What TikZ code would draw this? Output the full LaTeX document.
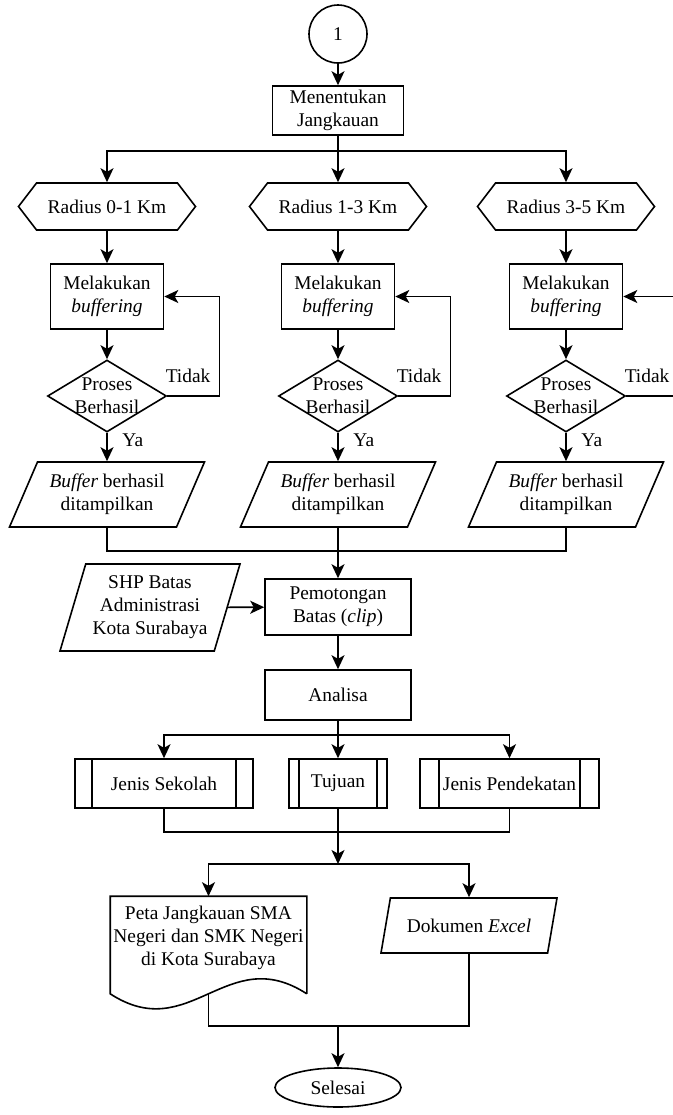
\documentclass[tikz,border=0pt]{standalone}
\usepackage{fontspec}
\setmainfont{Liberation Serif}
\usetikzlibrary{shapes.geometric,shapes.symbols,arrows.meta}

\begin{document}
\begin{tikzpicture}[
			x = 0.5pt, y = -0.5pt,
			line width = 0.8pt,
			>={Stealth[length=7pt,width=6.5pt,inset=1.8pt]},
			every node/.style = {font = \fontsize{9.7}{11.5}\selectfont},
			konektor/.style = {draw, circle, minimum size = 29pt, inner sep = 0pt},
			terminal/.style = {draw, ellipse, minimum width = 63pt, minimum height = 19.5pt, inner sep = 1pt},
			proses/.style = {draw, rectangle, align = center, inner sep = 2pt},
			persiapan/.style = {draw, signal, signal to = east and west, signal pointer angle = 105, minimum width = 88.5pt, minimum height = 23.5pt},
			keputusan/.style = {draw, diamond, aspect = 1.65, align = center, inner sep = -2pt, minimum width = 59.5pt, minimum height = 36pt},
			data/.style = {draw, trapezium, trapezium stretches body, align = center, inner sep = 1pt},
			subproses/.style = {draw, rectangle, minimum height = 24.5pt, path picture = {
				\draw ([xshift=#1]path picture bounding box.north west) -- ([xshift=#1]path picture bounding box.south west)
				([xshift=-#1]path picture bounding box.north east) -- ([xshift=-#1]path picture bounding box.south east);}}
			]

			\useasboundingbox (0,0) rectangle (673,1115);

			\node[konektor] (mulai) at (338,34) {1};
			\node[proses, minimum width = 65.5pt, minimum height = 24.5pt] (jangkau) at (338,110.5) {Menentukan\\Jangkauan};

			\node[persiapan] (rad1) at (107,206.5) {Radius 0-1 Km};
			\node[persiapan] (rad2) at (338,206.5) {Radius 1-3 Km};
			\node[persiapan] (rad3) at (566,206.5) {Radius 3-5 Km};

			\node[proses, minimum width = 56.5pt, minimum height = 32.5pt] (buf1) at (107,296.5) {Melakukan\\\textit{buffering}};
			\node[proses, minimum width = 56.5pt, minimum height = 32.5pt] (buf2) at (338,296.5) {Melakukan\\\textit{buffering}};
			\node[proses, minimum width = 56.5pt, minimum height = 32.5pt] (buf3) at (566,296.5) {Melakukan\\\textit{buffering}};

			\node[keputusan] (cek1) at (107,396) {Proses\\Berhasil};
			\node[keputusan] (cek2) at (338,396) {Proses\\Berhasil};
			\node[keputusan] (cek3) at (566,396) {Proses\\Berhasil};

			\node[data, trapezium left angle = 58, trapezium right angle = 122, minimum width = 97.5pt, minimum height = 32.5pt] (hasil1) at (107,494.5) {\textit{Buffer} berhasil\\ditampilkan};
			\node[data, trapezium left angle = 58, trapezium right angle = 122, minimum width = 97.5pt, minimum height = 32.5pt] (hasil2) at (338,494.5) {\textit{Buffer} berhasil\\ditampilkan};
			\node[data, trapezium left angle = 58, trapezium right angle = 122, minimum width = 97.5pt, minimum height = 32.5pt] (hasil3) at (566,494.5) {\textit{Buffer} berhasil\\ditampilkan};

			\node[data, trapezium left angle = 69, trapezium right angle = 111, minimum width = 90pt, minimum height = 43.5pt] (shp) at (150,607.5) {SHP Batas\\Administrasi\\Kota Surabaya};
			\node[proses, minimum width = 73pt, minimum height = 28pt] (potong) at (338,607) {Pemotongan\\Batas (\textit{clip})};
			\node[proses, minimum width = 73pt, minimum height = 25pt] (analisa) at (338,695) {Analisa};

			\node[subproses = 8.5pt, minimum width = 89pt] (sekolah) at (164,783.5) {Jenis Sekolah};
			\node[subproses = 5pt, minimum width = 49pt] (tujuan) at (338,783.5) {Tujuan};
			\node[subproses = 9.5pt, minimum width = 89.5pt] (dekat) at (509.5,783.5) {Jenis Pendekatan};

			\node[minimum width = 97.5pt, minimum height = 40.5pt, align = center, inner sep = 0pt] (peta) at (208.5,937.5) {Peta Jangkauan SMA\\Negeri dan SMK Negeri\\di Kota Surabaya};
			\draw ([yshift=-7.5pt]peta.south east) -- (peta.north east) -- (peta.north west) -- ([yshift=-7.5pt]peta.south west) .. controls +(80,52) and +(-80,-52) .. ([yshift=-7.5pt]peta.south east);
			\node[data, trapezium left angle = 62, trapezium right angle = 118, minimum width = 88pt, minimum height = 27.5pt] (excel) at (469,925.5) {Dokumen \textit{Excel}};

			\node[terminal] (selesai) at (338,1087.5) {Selesai};

			\coordinate (cab1) at (338,151);
			\coordinate (gab1) at (338,551);
			\coordinate (cab2) at (338,735);
			\coordinate (gab2) at (338,832);
			\coordinate (cab3) at (338,864);
			\coordinate (gab3) at (338,1026);
			\coordinate (petabawah) at ([yshift=-7.5pt]peta.south);

			\draw[->] (mulai) -- (jangkau);
			\draw (jangkau) -- (cab1);
			\draw[->] (cab1) -| (rad1.north);
			\draw[->] (cab1) -- (rad2);
			\draw[->] (cab1) -| (rad3.north);

			\draw[->] (rad1) -- (buf1);
			\draw[->] (rad2) -- (buf2);
			\draw[->] (rad3) -- (buf3);

			\draw[->] (buf1) -- (cek1);
			\draw[->] (buf2) -- (cek2);
			\draw[->] (buf3) -- (cek3);

			\draw[->] (cek1.east) -- node[pos = 0.4, above = 3pt] {Tidak} ++(52,0) |- (buf1.east);
			\draw[->] (cek2.east) -- node[pos = 0.4, above = 3pt] {Tidak} ++(52,0) |- (buf2.east);
			\draw[->] (cek3.east) -- node[pos = 0.4, above = 3pt] {Tidak} ++(52,0) |- (buf3.east);

			\draw[->] (cek1) -- node[pos = 0.25, right = 4pt] {Ya} (hasil1);
			\draw[->] (cek2) -- node[pos = 0.25, right = 4pt] {Ya} (hasil2);
			\draw[->] (cek3) -- node[pos = 0.25, right = 4pt] {Ya} (hasil3);

			\draw (hasil1.south) |- (gab1) -| (hasil3.south);
			\draw[->] (hasil2) -- (potong);
			\draw[->] (shp) -- (potong);
			\draw[->] (potong) -- (analisa);

			\draw (analisa) -- (cab2);
			\draw[->] (cab2) -| (sekolah.north);
			\draw[->] (cab2) -- (tujuan);
			\draw[->] (cab2) -| (dekat.north);
			\draw (sekolah.south) |- (gab2) -| (dekat.south);

			\draw[->] (tujuan) -- (cab3);
			\draw[->] (cab3) -| (peta.north);
			\draw[->] (cab3) -| (excel.north);
			\draw (petabawah) |- (gab3) -| (excel.south);
			\draw[->] (gab3) -- (selesai);

		\end{tikzpicture}
\end{document}
